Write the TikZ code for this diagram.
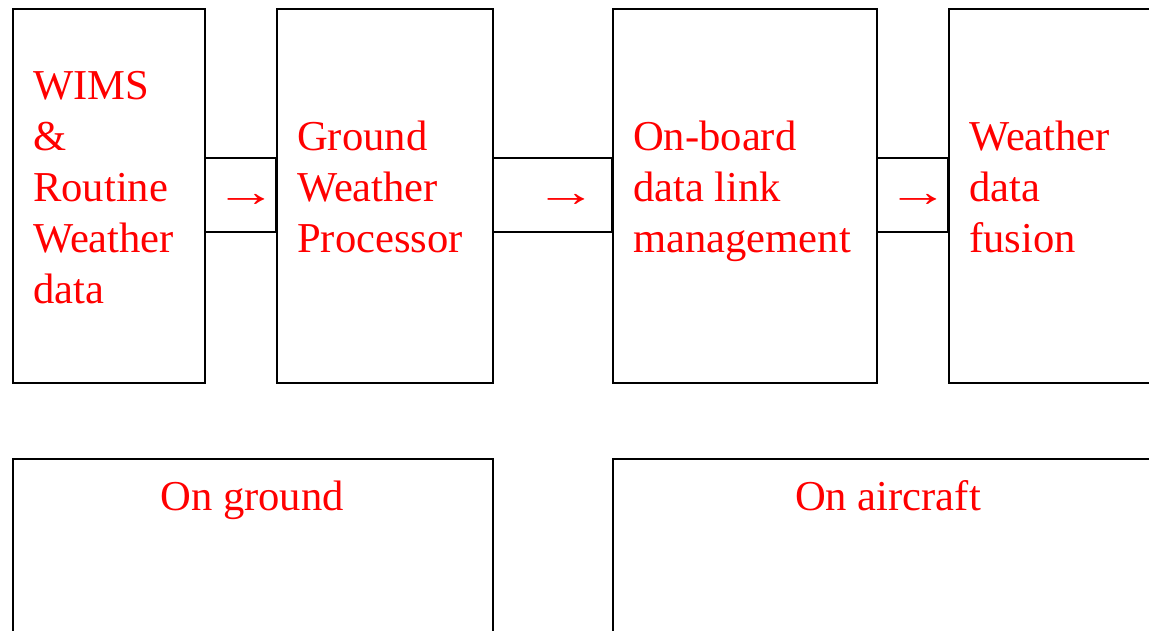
\documentclass[tikz,border=0pt]{standalone}
\usepackage{fontspec}
\setmainfont{Liberation Serif}
\begin{document}
\begin{tikzpicture}[x=1pt,y=-1pt,
  box/.style={draw=black, line width=1.6pt, rectangle, inner sep=0pt, anchor=north west},
  link/.style={draw=black, line width=1.6pt},
  lbl/.style={text=red, font=\fontsize{42.6}{51}\selectfont, inner sep=0pt, align=left, anchor=base west},
  arr/.style={text=red, font=\fontsize{42.6}{51}\selectfont, inner sep=0pt, anchor=base},
  grouptitle/.style={text=red, font=\fontsize{42.6}{51}\selectfont, inner sep=0pt, anchor=base}]
\useasboundingbox (0,0) rectangle (1149,630);
\clip (0,0) rectangle (1149,630);

% processing chain
\node[box, minimum width=192pt, minimum height=374pt] (b1) at (12,8) {};
\node[box, minimum width=216pt, minimum height=374pt] (b2) at (276,8) {};
\node[box, minimum width=264pt, minimum height=374pt] (b3) at (612,8) {};
\node[box, minimum width=240pt, minimum height=374pt] (b4) at (948,8) {};

% link bands between the stages
\coordinate (ya) at (0,158);
\coordinate (yb) at (0,232);
\draw[link] (b1.east |- ya) rectangle (b2.west |- yb);
\draw[link] (b2.east |- ya) rectangle (b3.west |- yb);
\draw[link] (b3.east |- ya) rectangle (b4.west |- yb);

\node[arr] (a1) at (246,206) {\scalebox{1.45}[1]{→}};
\node[arr] (a2) at (566,206) {\scalebox{1.45}[1]{→}};
\node[arr] (a3) at (918,206) {\scalebox{1.45}[1]{→}};

% stage labels (anchored at the baseline of the last line)
\node[lbl] (t1) at (33,303) {WIMS\\\&\\Routine\\Weather\\data};
\node[lbl] (t2) at (297,252) {Ground\\Weather\\Processor};
\node[lbl] (t3) at (633,252) {On-board\\data link\\management};
\node[lbl] (t4) at (969,252) {Weather\\data\\fusion};

% location groups
\node[box, minimum width=480pt, minimum height=200pt] (g1) at (12,458) {};
\node[box, minimum width=552pt, minimum height=200pt] (g2) at (612,458) {};
\node[grouptitle] (c1) at (252,510) {On ground};
\node[grouptitle] (c2) at (888,510) {On aircraft};
\end{tikzpicture}
\end{document}
